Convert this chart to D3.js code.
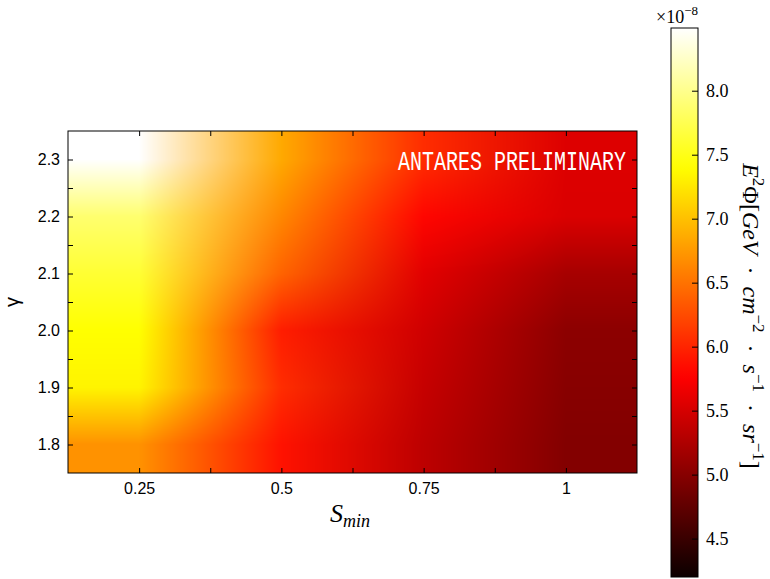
<!DOCTYPE html>
<html>
<head>
<meta charset="utf-8">
<script src="https://cdn.jsdelivr.net/npm/d3@7"></script>
<style>
  body { margin: 0; background: #fff; }
  svg text { fill: #000; }
  .tick line { stroke: #000; }
</style>
</head>
<body>
<div id="chart"></div>
<script>
// grid of the scan
var sMin = [0.25, 0.5, 0.75, 1.0];
var gamma = [1.8, 1.9, 2.0, 2.1, 2.2, 2.3];
// E^2 Phi in units of 1e-8, one row per gamma, one column per S_min
var flux = [
  [6.70, 5.88, 5.34, 4.97],
  [7.33, 6.05, 5.40, 5.00],
  [7.40, 5.95, 5.46, 5.03],
  [7.62, 6.40, 5.58, 5.20],
  [7.87, 6.63, 5.80, 5.53],
  [8.49, 6.85, 6.05, 5.55]
];
var xTicks = [0.25, 0.375, 0.5, 0.625, 0.75, 0.875, 1.0];
var xLabels = [0.25, 0.5, 0.75, 1.0];
var yTicks = [1.8, 1.85, 1.9, 1.95, 2.0, 2.05, 2.1, 2.15, 2.2, 2.25, 2.3];
var yLabels = [1.8, 1.9, 2.0, 2.1, 2.2, 2.3];
var cbTicks = [4.5, 5.0, 5.5, 6.0, 6.5, 7.0, 7.5, 8.0];
var colorRange = [4.2, 8.49];

var width = 770, height = 579;
var plot = {left: 68, right: 637, top: 131, bottom: 473};
var cb = {left: 671, right: 698, top: 28, bottom: 577};

// matplotlib "hot"
function hot(t) {
  t = Math.max(0, Math.min(1, t));
  var r = t < 0.365079 ? 0.0416 + t / 0.365079 * (1 - 0.0416) : 1;
  var g = t < 0.365079 ? 0 : (t < 0.746032 ? (t - 0.365079) / (0.746032 - 0.365079) : 1);
  var b = t < 0.746032 ? 0 : (t - 0.746032) / (1 - 0.746032);
  return d3.rgb(r * 255, g * 255, b * 255);
}

var x = d3.scaleLinear().domain([0.125, 1.125]).range([plot.left, plot.right]);
var y = d3.scaleLinear().domain([1.75, 2.35]).range([plot.bottom, plot.top]);
var norm = d3.scaleLinear().domain(colorRange).range([0, 1]).clamp(true);
var color = function(v) { return hot(norm(v)); };
var cbScale = d3.scaleLinear().domain(colorRange).range([cb.bottom, cb.top]);

// fractional grid index for a data coordinate (clamped at the edges)
var xi = d3.scaleLinear().domain(sMin).range(d3.range(sMin.length)).clamp(true);
var yi = d3.scaleLinear().domain(gamma).range(d3.range(gamma.length)).clamp(true);

var svg = d3.select("#chart").append("svg")
  .attr("width", width)
  .attr("height", height);

// heatmap: colour the grid, then interpolate the colours bilinearly
var cells = flux.map(function(row) { return row.map(color); });
var W = plot.right - plot.left, H = plot.bottom - plot.top;
var canvas = document.createElement("canvas");
canvas.width = W;
canvas.height = H;
var ctx = canvas.getContext("2d");
var img = ctx.createImageData(W, H);
for (var py = 0; py < H; py++) {
  var fy = yi(y.invert(plot.top + py + 0.5));
  var j0 = Math.min(Math.floor(fy), gamma.length - 2), ty = fy - j0;
  for (var px = 0; px < W; px++) {
    var fx = xi(x.invert(plot.left + px + 0.5));
    var i0 = Math.min(Math.floor(fx), sMin.length - 2), tx = fx - i0;
    var c00 = cells[j0][i0], c10 = cells[j0][i0 + 1],
        c01 = cells[j0 + 1][i0], c11 = cells[j0 + 1][i0 + 1];
    var k = (py * W + px) * 4;
    ["r", "g", "b"].forEach(function(ch, n) {
      var a = c00[ch] * (1 - tx) + c10[ch] * tx;
      var b = c01[ch] * (1 - tx) + c11[ch] * tx;
      img.data[k + n] = a * (1 - ty) + b * ty;
    });
    img.data[k + 3] = 255;
  }
}
ctx.putImageData(img, 0, 0);

svg.append("image")
  .attr("x", plot.left)
  .attr("y", plot.top)
  .attr("width", W)
  .attr("height", H)
  .attr("href", canvas.toDataURL());

// axes, ticks pointing inward on all four sides
var fmtX = function(d) { return xLabels.indexOf(d) >= 0 ? (d === 1 ? "1" : String(d)) : ""; };
var fmtY = function(d) { return yLabels.indexOf(d) >= 0 ? d3.format(".1f")(d) : ""; };

function styleAxis(g, font) {
  g.select(".domain").remove();
  g.selectAll("text")
    .style("font-family", font || "'Liberation Sans', Arial, sans-serif")
    .style("font-size", "16px");
}

svg.append("g")
  .attr("transform", "translate(0," + plot.bottom + ")")
  .call(d3.axisBottom(x).tickValues(xTicks).tickFormat(fmtX).tickSize(-5).tickPadding(10))
  .call(styleAxis);

svg.append("g")
  .attr("transform", "translate(0," + plot.top + ")")
  .call(d3.axisTop(x).tickValues(xTicks).tickFormat("").tickSize(-5))
  .call(styleAxis);

svg.append("g")
  .attr("transform", "translate(" + plot.left + ",0)")
  .call(d3.axisLeft(y).tickValues(yTicks).tickFormat(fmtY).tickSize(-5).tickPadding(8))
  .call(styleAxis);

svg.append("g")
  .attr("transform", "translate(" + plot.right + ",0)")
  .call(d3.axisRight(y).tickValues(yTicks).tickFormat("").tickSize(-5))
  .call(styleAxis);

svg.append("rect")
  .attr("x", plot.left)
  .attr("y", plot.top)
  .attr("width", W)
  .attr("height", H)
  .attr("fill", "none")
  .attr("stroke", "#000")
  .attr("stroke-width", 1);

svg.append("text")
  .attr("transform", "translate(626,170) scale(1,1.35)")
  .attr("text-anchor", "end")
  .style("font-family", "'Liberation Mono', 'DejaVu Sans Mono', monospace")
  .style("font-size", "20px")
  .style("fill", "#fff")
  .text("ANTARES PRELIMINARY");

// axis titles
var xt = svg.append("text")
  .attr("x", 350)
  .attr("y", 522)
  .attr("text-anchor", "middle")
  .style("font-family", "'Liberation Serif', 'DejaVu Serif', serif")
  .style("font-style", "italic")
  .style("font-size", "26px");
xt.append("tspan").text("S");
xt.append("tspan").attr("dy", 5).style("font-size", "18px").text("min");

svg.append("text")
  .attr("transform", "translate(19," + ((plot.top + plot.bottom) / 2) + ") rotate(-90)")
  .attr("text-anchor", "middle")
  .style("font-family", "'Liberation Sans', Arial, sans-serif")
  .style("font-size", "20px")
  .text("γ");

// colour bar
var grad = svg.append("defs").append("linearGradient")
  .attr("id", "cbgrad")
  .attr("x1", 0).attr("y1", 1).attr("x2", 0).attr("y2", 0);
grad.selectAll("stop")
  .data(d3.range(0, 1.0001, 0.02))
  .enter().append("stop")
  .attr("offset", function(d) { return d; })
  .attr("stop-color", function(d) { return hot(d).formatHex(); });

svg.append("rect")
  .attr("x", cb.left)
  .attr("y", cb.top)
  .attr("width", cb.right - cb.left)
  .attr("height", cb.bottom - cb.top)
  .attr("fill", "url(#cbgrad)")
  .attr("stroke", "#000")
  .attr("stroke-width", 1);

svg.append("g")
  .attr("transform", "translate(" + cb.right + ",0)")
  .call(d3.axisRight(cbScale).tickValues(cbTicks).tickFormat(d3.format(".1f")).tickSize(-6).tickPadding(8))
  .call(styleAxis, "'Liberation Serif', 'DejaVu Serif', serif")
  .call(function(g) { g.selectAll("text").style("font-size", "18px"); });

var ex = svg.append("text")
  .attr("x", cb.right)
  .attr("y", 23)
  .attr("text-anchor", "end")
  .style("font-family", "'Liberation Serif', 'DejaVu Serif', serif")
  .style("font-size", "18px");
ex.append("tspan").text("×10");
ex.append("tspan").attr("dy", -8).style("font-size", "13px").text("−8");

// colour bar label, reading downwards
var cl = svg.append("text")
  .attr("transform", "translate(743,316) rotate(90)")
  .attr("text-anchor", "middle")
  .style("font-family", "'Liberation Serif', 'DejaVu Serif', serif")
  .style("font-size", "24px");
var dot = "\u2002·\u2002";
var parts = [
  ["E", "i", 0], ["2", "", -10], ["Φ[", "", 10], ["GeV", "i", 0], [dot, "", 0],
  ["cm", "i", 0], ["−2", "", -10], [dot, "", 10], ["s", "i", 0], ["−1", "", -10],
  [dot, "", 10], ["sr", "i", 0], ["−1", "", -10], ["]", "", 10]
];
parts.forEach(function(p) {
  var t = cl.append("tspan").text(p[0]);
  if (p[1] === "i") t.style("font-style", "italic");
  if (p[2]) t.attr("dy", p[2]);
  if (p[2] < 0) t.style("font-size", "17px");
});
</script>
</body>
</html>
